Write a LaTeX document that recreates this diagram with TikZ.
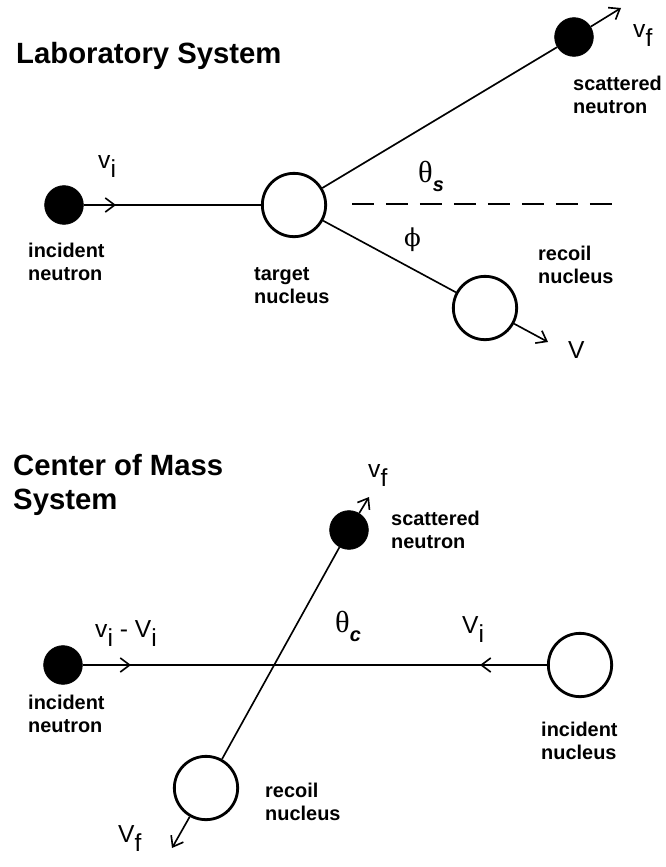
\documentclass[tikz,border=0pt]{standalone}
\usepackage{fontspec}
\setmainfont{Liberation Sans}
\newfontfamily\greekfont{Liberation Serif}
\newfontfamily\phifont{DejaVu Serif}
\usetikzlibrary{arrows.meta}
\newcommand{\lowsub}[1]{\raisebox{-0.4em}{#1}}
\newcommand{\angsub}[1]{\raisebox{-0.3em}{\normalfont\bfseries\itshape\fontsize{17}{20}\selectfont #1}}

\begin{document}
\begin{tikzpicture}[
  x=0.03cm, y=-0.03cm,
  neutron/.style={circle, draw, fill=black, line width=0.6pt, minimum size=1.16cm, inner sep=0pt},
  nucleus/.style={circle, draw, line width=2.4pt, minimum size=1.9cm, inner sep=0pt},
  link/.style={line width=1.4pt},
  arr/.style={line width=1.4pt, -{Straight Barb[length=8pt, width=12pt]}},
  lbl/.style={font=\bfseries\fontsize{17}{18.8}\selectfont, anchor=base west, align=left, inner sep=0pt},
  ttl/.style={font=\bfseries\fontsize{25}{29}\selectfont, anchor=base west, align=left, inner sep=0pt},
  vlab/.style={font=\fontsize{21}{24}\selectfont, anchor=base west, inner sep=0pt},
  sym/.style={font=\greekfont\fontsize{26}{28}\selectfont, anchor=base west, inner sep=0pt}
]
  \useasboundingbox[fill=white] (0,0) rectangle (665,867);

  % laboratory system
  \node[ttl] (labT) at (16,63) {Laboratory System};
  \node[neutron] (nIn) at (64,205) {};
  \node[nucleus] (tgt) at (294,205) {};
  \node[neutron] (nSc) at (574,37) {};
  \node[nucleus] (nRc) at (485,308) {};
  \coordinate (mIn) at (116,205);
  \coordinate (tipSc) at (621,8);
  \coordinate (tipRc) at (548,342);
  \draw[link] (nIn) -- (tgt);
  \draw[arr] (nIn) -- (mIn);
  \draw[link] (tgt) -- (nSc);
  \draw[arr] (nSc) -- (tipSc);
  \draw[link] (tgt) -- (nRc);
  \draw[arr] (nRc) -- (tipRc);
  \draw[link, dash pattern=on 18.8pt off 10.2pt] (352,204) -- (612,204);

  \node[vlab] (vI) at (98,168) {v\lowsub{i}};
  \node[vlab] (vF) at (633,37) {v\lowsub{f}};
  \node[vlab] (vR) at (568,358) {V};
  \node[sym] (thS) at (418,182) {θ\angsub{s}};
  \node[sym, font=\phifont\fontsize{21}{24}\selectfont] (phi) at (404,246) {ϕ};
  \node[lbl] (lIn) at (28,280) {incident\\neutron};
  \node[lbl] (lTg) at (254,303) {target\\nucleus};
  \node[lbl] (lSc) at (573,113) {scattered\\neutron};
  \node[lbl] (lRc) at (538,283) {recoil\\nucleus};

  % center of mass system
  \node[ttl] (cmT) at (13,509) {Center of Mass\\System};
  \node[neutron] (cIn) at (63,665) {};
  \node[nucleus] (cNu) at (580,665) {};
  \node[neutron] (cSc) at (349,530) {};
  \node[nucleus] (cRc) at (206,788) {};
  \coordinate (mL) at (131,665);
  \coordinate (mR) at (480,665);
  \coordinate (tipCSc) at (369,497);
  \coordinate (tipCRc) at (172,848);
  \draw[link] (cIn) -- (cNu);
  \draw[arr] (cIn) -- (mL);
  \draw[arr] (cNu) -- (mR);
  \draw[link] (cSc) -- (cRc);
  \draw[arr] (cSc) -- (tipCSc);
  \draw[arr] (cRc) -- (tipCRc);

  \node[vlab] (cvF) at (368,477) {v\lowsub{f}};
  \node[vlab] (cvI) at (95,637) {v\lowsub{i} - V\lowsub{i}};
  \node[vlab] (cVI) at (462,633) {V\lowsub{i}};
  \node[vlab] (cVF) at (118,842) {V\lowsub{f}};
  \node[sym] (thC) at (335,632) {θ\angsub{c}};
  \node[lbl] (clSc) at (391,548) {scattered\\neutron};
  \node[lbl] (clIn) at (28,732) {incident\\neutron};
  \node[lbl] (clNu) at (541,759) {incident\\nucleus};
  \node[lbl] (clRc) at (265,820) {recoil\\nucleus};
\end{tikzpicture}
\end{document}
